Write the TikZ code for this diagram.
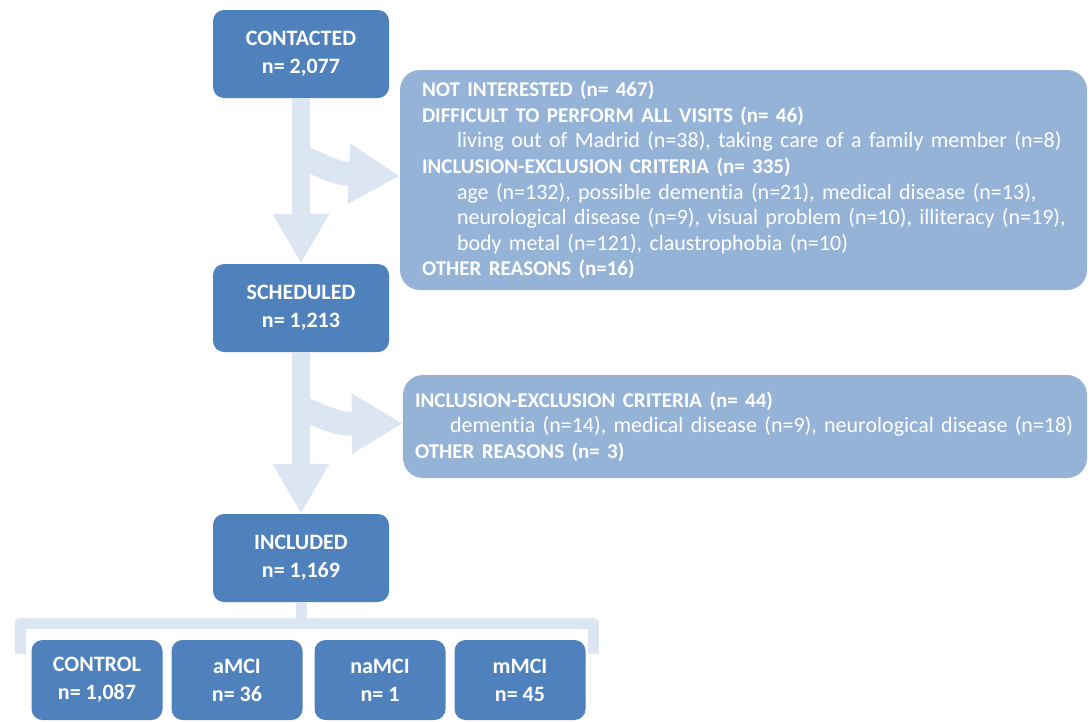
\documentclass[tikz,border=0pt]{standalone}
\usepackage{fontspec}
\setmainfont{Carlito}[Ligatures=NoCommon]
\usetikzlibrary{arrows.meta,calc}
\definecolor{boxdark}{RGB}{79,129,189}
\definecolor{boxlight}{RGB}{149,179,215}
\definecolor{arrowc}{RGB}{220,230,242}
\newcommand{\hd}[1]{\mbox{\fontsize{21}{25.6}\selectfont\bfseries #1}}
\newcommand{\sub}[1]{\hspace*{35pt}\mbox{#1}}
\hbadness=10000 \hfuzz=100pt
\begin{document}
\begin{tikzpicture}[x=1pt,y=-1pt,
  smallbox/.style={fill=boxdark, rounded corners=11pt, text=white,
    font=\fontsize{22}{28}\selectfont\bfseries, align=center,
    minimum width=176pt, minimum height=88pt, inner sep=0pt},
  groupbox/.style={smallbox, minimum width=131pt, minimum height=80pt},
  bigbox/.style={fill=boxlight, rounded corners=20pt, text=white,
    font=\fontsize{22}{25.6}\selectfont, align=left, inner ysep=0pt},
  fatarrow/.style={draw=arrowc, line width=18pt, -{Triangle[width=53pt,length=50pt]}},
  bentarrow/.style={draw=arrowc, line width=24pt, -{Triangle[width=57pt,length=51pt]}},
  bracket/.style={draw=arrowc, line width=11pt, line join=round}
]
\useasboundingbox (0,0) rectangle (1091,721);

% main boxes
\node[smallbox] (c1) at (301,54) {CONTACTED\\n= 2,077};
\node[smallbox] (s1) at (301,308) {SCHEDULED\\n= 1,213};
\node[smallbox] (i1) at (301,558) {INCLUDED\\n= 1,169};

% exclusion boxes
\node[bigbox, minimum width=687pt, minimum height=220pt, text width=643pt, inner xsep=22pt] (r1) at (743.5,180) {%
\hd{NOT INTERESTED (n= 467)}\\
\hd{DIFFICULT TO PERFORM ALL VISITS (n= 46)}\\
\sub{living out of Madrid (n=38), taking care of a family member (n=8)}\\
\hd{INCLUSION-EXCLUSION CRITERIA (n= 335)}\\
\sub{age (n=132), possible dementia (n=21), medical disease (n=13),}\\
\sub{neurological disease (n=9), visual problem (n=10), illiteracy (n=19),}\\
\sub{body metal (n=121), claustrophobia (n=10)}\\
\hd{OTHER REASONS (n=16)}};

\node[bigbox, minimum width=684pt, minimum height=103pt, text width=660pt, inner xsep=12pt] (r2) at (745,426.5) {%
\hd{INCLUSION-EXCLUSION CRITERIA (n= 44)}\\
\sub{dementia (n=14), medical disease (n=9), neurological disease (n=18)}\\
\hd{OTHER REASONS (n= 3)}};

% arrows
\draw[fatarrow] (c1.south) -- (s1.north);
\draw[fatarrow] (s1.south) -- (i1.north);
\draw[bentarrow] ($(c1.south)+(-1,59)$) .. controls ($(c1.south)+(14,63)$) and ($(c1.south)+(29,74)$) .. ($(c1.south)+(46,75.5)$) -- ([yshift=4pt]r1.west);
\draw[bentarrow] ($(s1.south)+(-1,56)$) .. controls ($(s1.south)+(14,60)$) and ($(s1.south)+(29,70)$) .. ($(s1.south)+(46,71.5)$) -- ([yshift=3pt]r2.west);

% bracket
\coordinate (bl) at (20,654);
\coordinate (br) at (593,654);
\draw[bracket] (bl) -- (bl |- 0,623) -- (br |- 0,623) -- (br);
\draw[bracket] (i1.south) -- (i1.south |- 0,623);

% groups
\node[groupbox] (g1) at (97,680) {CONTROL\\n= 1,087};
\node[groupbox] (g2) at (237,680) {aMCI\\n= 36};
\node[groupbox] (g3) at (380,680) {naMCI\\n= 1};
\node[groupbox] (g4) at (520,680) {mMCI\\n= 45};
\end{tikzpicture}
\end{document}
